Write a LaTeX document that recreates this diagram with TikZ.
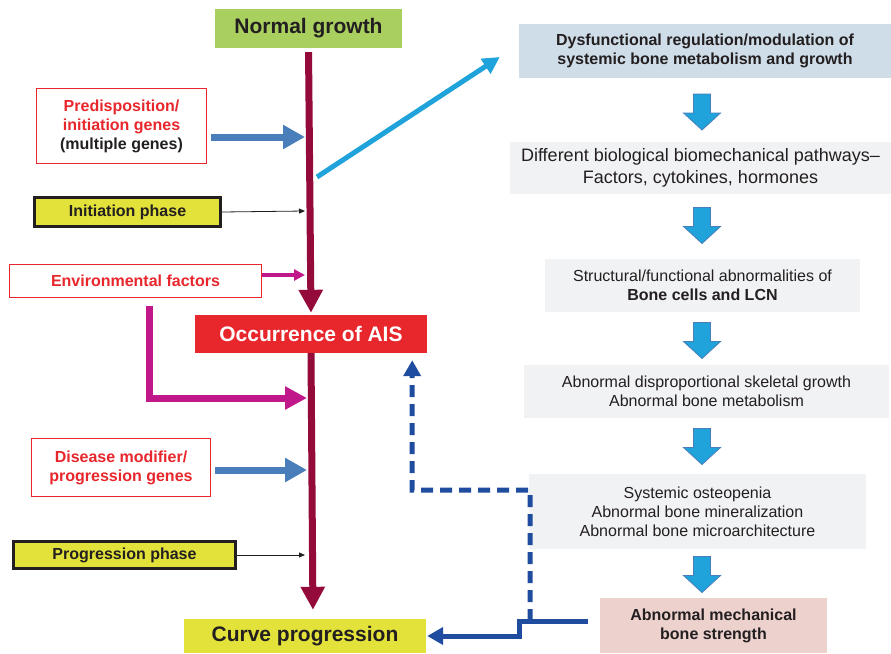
\documentclass[tikz,border=0pt]{standalone}
\usepackage{fontspec}
\setmainfont{Liberation Sans}
\usetikzlibrary{arrows.meta}
\definecolor{leaf}{HTML}{A9D05F}
\definecolor{wine}{HTML}{940A3A}
\definecolor{alarm}{HTML}{E8272D}
\definecolor{steel}{HTML}{4A7EBB}
\definecolor{sky}{HTML}{1FA3DA}
\definecolor{lemon}{HTML}{E2E23A}
\definecolor{plum}{HTML}{C0188A}
\definecolor{navy}{HTML}{1F4C9F}
\definecolor{mist}{HTML}{CFDDE8}
\definecolor{ash}{HTML}{F1F2F4}
\definecolor{blush}{HTML}{ECD1CD}
\definecolor{ink}{HTML}{231F20}

\begin{document}
\begin{tikzpicture}[x=1pt, y=-1pt,
    headbox/.style={inner sep=0pt, text=ink, font=\fontsize{21}{25}\selectfont\bfseries},
    genebox/.style={draw=alarm, line width=1.5pt, fill=white, inner sep=0pt, align=center,
      text=alarm, font=\fontsize{16}{19}\selectfont\bfseries},
    phasebox/.style={draw=ink, line width=3pt, fill=lemon, inner sep=0pt, text=ink,
      font=\fontsize{16}{19}\selectfont\bfseries},
    bonebox/.style={fill=ash, inner sep=0pt, align=center, text=ink, font=\fontsize{16}{19}\selectfont},
    drive/.style={draw=wine, line width=7pt, -{Triangle[width=23pt, length=23pt]}},
    push/.style={draw=steel, line width=7pt, shorten <=4pt, -{Triangle[width=23pt, length=22pt]}},
    hint/.style={draw=ink, line width=0.8pt, -{Triangle[width=5pt, length=6pt]}},
    back/.style={draw=navy, line width=5pt, -{Triangle[width=17pt, length=16pt]}},
    blockarr/.style={fill=sky, draw=steel, line width=0.8pt, line join=miter}]
  \useasboundingbox (0,0) rectangle (891,653);

  \node[headbox, fill=leaf, minimum width=187pt, minimum height=39pt] (normal) at (308.5,28.5) {Normal growth};
  \node[headbox, fill=alarm, text=white, minimum width=232pt, minimum height=38pt] (occ) at (311,334) {Occurrence of AIS};
  \node[headbox, fill=lemon, minimum width=242pt, minimum height=34pt] (curve) at (305,636) {Curve progression};

  \node[genebox, minimum width=170pt, minimum height=75pt] (pred) at (121.5,126)
    {Predisposition/\\initiation genes\\\textcolor{ink}{(multiple genes)}};
  \node[phasebox, minimum width=186pt, minimum height=29pt] (init) at (127.5,212) {Initiation phase};
  \node[genebox, minimum width=252pt, minimum height=33pt] (env) at (135.5,281) {Environmental factors};
  \node[genebox, minimum width=179pt, minimum height=58pt] (dis) at (121,467.5) {Disease modifier/\\progression genes};
  \node[phasebox, minimum width=222pt, minimum height=27pt] (prog) at (124.5,555) {Progression phase};

  \node[bonebox, fill=mist, font=\fontsize{16}{19}\selectfont\bfseries, minimum width=372pt, minimum height=54pt] (dys) at (705,51)
    {Dysfunctional regulation/modulation of\\systemic bone metabolism and growth};
  \node[bonebox, font=\fontsize{18}{22}\selectfont, minimum width=381pt, minimum height=52pt] (path) at (700.5,168)
    {Different biological biomechanical pathways--\\Factors, cytokines, hormones};
  \node[bonebox, minimum width=315pt, minimum height=53pt] (struct) at (702.5,285.5)
    {Structural/functional abnormalities of\\\textbf{Bone cells and LCN}};
  \node[bonebox, minimum width=365pt, minimum height=53pt] (skel) at (706.5,391.5)
    {Abnormal disproportional skeletal growth\\Abnormal bone metabolism};
  \node[bonebox, minimum width=337pt, minimum height=75pt] (osteo) at (697.5,511.5)
    {Systemic osteopenia\\Abnormal bone mineralization\\Abnormal bone microarchitecture};
  \node[bonebox, fill=blush, font=\fontsize{16}{19}\selectfont\bfseries, minimum width=227pt, minimum height=55pt] (abn) at (713.5,625.5)
    {Abnormal mechanical\\bone strength};

  \foreach \y in {112,225.5,340.5,446.5,574.5}
    \draw[blockarr] (693.5,\y-18) -- (710.5,\y-18) -- (710.5,\y+1) -- (720.5,\y+1)
      -- (702,\y+18) -- (683.5,\y+1) -- (693.5,\y+1) -- cycle;

  \coordinate (h1) at (305,137);
  \coordinate (h2) at (305,211);
  \coordinate (h3) at (305,275);
  \coordinate (h4) at (307,398);
  \coordinate (h5) at (307,470);
  \coordinate (h6) at (305,555);
  \coordinate (d0) at (317,177);
  \coordinate (j0) at (530,621);
  \coordinate (j1) at (412,490);

  \draw[drive, shorten <=4pt, shorten >=2pt] (normal.south) -- (occ.north);
  \draw[drive, shorten >=9pt] (occ.south) -- ([xshift=8pt]curve.north);
  \draw[push] ([yshift=-11pt]pred.east) -- (h1);
  \draw[push] ([yshift=-2.5pt]dis.east) -- (h5);
  \draw[hint] (init.east) -- (h2);
  \draw[hint] (prog.east) -- (h6);
  \draw[draw=sky, line width=5pt, -{Triangle[width=17pt, length=17pt]}] (d0) -- ([xshift=-19pt,yshift=-6pt]dys.west);
  \draw[draw=plum, line width=4pt, -{Triangle[width=11pt, length=11pt]}] ([yshift=6pt]env.east) -- (h3);
  \draw[draw=plum, line width=7pt, shorten <=8pt, -{Triangle[width=22pt, length=22pt]}] ([xshift=14pt]env.south) |- (h4);
  \draw[back, shorten <=12pt, shorten >=1pt] ([yshift=4.5pt]abn.west) -- ++(-80,0) |- (curve.east);
  \draw[back, dash pattern=on 12pt off 7pt] (j0) |- (j1) -- ([xshift=-15pt,yshift=-7pt]occ.south east);
\end{tikzpicture}
\end{document}
